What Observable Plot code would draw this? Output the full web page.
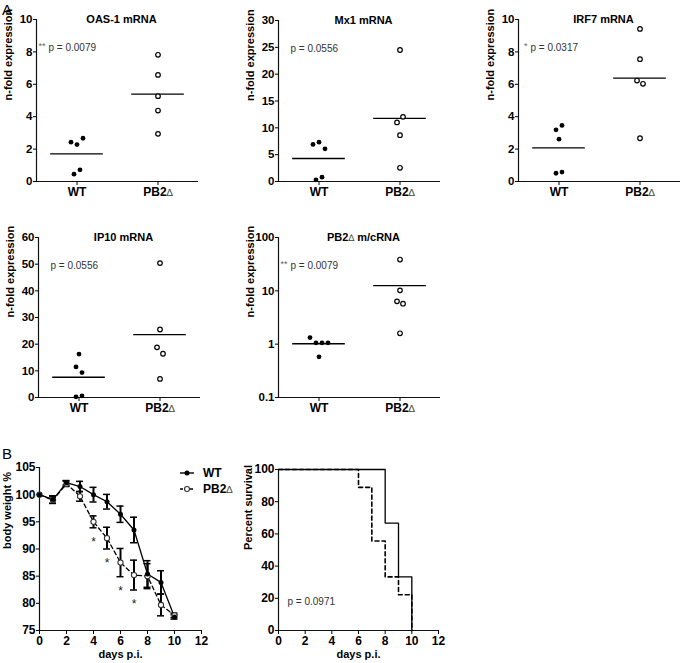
<!DOCTYPE html>
<html>
<head>
<meta charset="utf-8">
<script src="https://cdn.jsdelivr.net/npm/d3@7"></script>
<script src="https://cdn.jsdelivr.net/npm/@observablehq/plot@0.6"></script>
<style>
  html, body { margin: 0; padding: 0; background: #fff; overflow: hidden; }
  #fig { position: relative; width: 680px; height: 663px; overflow: hidden; background: #fff;
         font-family: 'Liberation Sans', Arial, Helvetica, sans-serif; color: #000; }
  .letter { position: absolute; font-size: 15px; line-height: 15px; }
</style>
</head>
<body>
<div id="fig"></div>
<script>
// ---------------- DATA ----------------
const groups = ["WT", "PB2Δ"];

const oasWT  = [2.43, 2.28, 2.67, 0.45, 0.72];
const oasPB2 = [7.82, 6.58, 5.27, 4.38, 2.94];

const mx1WT  = [6.9, 7.33, 6.09, 0.31, 0.81];
const mx1PB2 = [24.5, 11.0, 12.05, 8.63, 2.55];

const irf7WT  = [3.19, 3.46, 2.61, 0.51, 0.58];
const irf7PB2 = [9.42, 7.55, 6.23, 6.03, 2.67];

const ip10WT  = [16.3, 11.46, 9.34, 0.25, 0.62];
const ip10PB2 = [50.4, 25.5, 18.8, 16.4, 6.97];

const pb2WT  = [1.33, 1.06, 1.06, 1.06, 0.58];
const pb2PB2 = [38.6, 10.2, 6.35, 5.74, 1.6];

const titles = ["OAS-1 mRNA", "Mx1 mRNA", "IRF7 mRNA", "IP10 mRNA", "PB2Δ m/cRNA"];
const pValues = ["p = 0.0079", "p = 0.0556", "p = 0.0317", "p = 0.0556", "p = 0.0079"];
const pStars  = ["**", "", "*", "", "**"];

const days       = [0, 1, 2, 3, 4, 5, 6, 7, 8, 9, 10];
const wtWeight   = [100, 99.1, 102.2, 101.5, 100.0, 98.7, 96.4, 93.5, 85.4, 83.85, 77.5];
const wtSem      = [0, 0.7, 0.4, 0.95, 1.35, 1.35, 1.5, 2.35, 2.45, 2.15, 0.4];
const pb2Weight  = [100, 99.0, 102.0, 99.7, 95.0, 92.0, 87.5, 85.2, 85.0, 79.7, 77.8];
const pb2Sem     = [0, 0.6, 0.5, 0.9, 1.1, 2.0, 2.6, 2.75, 2.3, 2.0, 0.4];
const sigDays    = [4, 5, 6, 7];

const survDaysWT  = [0, 8, 9, 10];
const survWT      = [100, 66.7, 33.3, 0];
const survDaysPB2 = [0, 6, 7, 8, 9, 10];
const survPB2     = [100, 88.9, 55.6, 33.3, 22.2, 0];
const survP = "p = 0.0971";

// ---------------- HELPERS ----------------
const FONT = "'Liberation Sans', Arial, Helvetica, sans-serif";
const STYLE = `font-family:${FONT};font-size:12px;font-weight:bold;color:#000;background:transparent;overflow:visible;`;
const fig = document.getElementById("fig");
function place(el, left, top) {
  el.style.position = "absolute";
  el.style.left = left + "px";
  el.style.top = top + "px";
  fig.appendChild(el);
}

// cluster points whose pixel heights are close and spread them side by side
function swarm(values, center, yScale, unitsPerPx) {
  const py = values.map(v => yScale(v));
  const idx = d3.range(values.length).sort((a, b) => py[a] - py[b]);
  const clusters = [];
  let cur = [idx[0]];
  for (let k = 1; k < idx.length; k++) {
    if (Math.abs(py[idx[k]] - py[idx[k - 1]]) < 6.5) cur.push(idx[k]);
    else { clusters.push(cur); cur = [idx[k]]; }
  }
  clusters.push(cur);
  const off = new Array(values.length).fill(0);
  for (const c of clusters) {
    c.sort((a, b) => a - b);
    c.forEach((i, j) => off[i] = (j - (c.length - 1) / 2) * 6);
  }
  return values.map((v, i) => ({v, x: center + off[i] * unitsPerPx}));
}

function dotPanel(cfg) {
  const {k, wt, pb2, domain, ticks, log, axisX, axisTop, plotH} = cfg;
  const mT = 19, mB = 19, mL = 40, mR = 4, plotW = 162;
  const yS = (log ? d3.scaleLog() : d3.scaleLinear()).domain(domain).range([plotH, 0]);
  const upp = 4 / plotW;
  const wtPts = swarm(wt, 1, yS, upp);
  const pbPts = swarm(pb2, 3, yS, upp);
  const means = [{c: 1, m: d3.mean(wt)}, {c: 3, m: d3.mean(pb2)}];
  const marks = [
    Plot.ruleX([0], {stroke: "#111", strokeWidth: 1.2}),
    Plot.ruleY([domain[0]], {stroke: "#111", strokeWidth: 1.2}),
    Plot.axisX({ticks: [1, 3], tickFormat: t => groups[(t - 1) / 2], tickSize: 4, tickPadding: 2, label: null}),
    Plot.axisY({ticks, tickFormat: d => String(d), tickSize: 3, tickPadding: 1, label: null, fontSize: 11.5}),
    Plot.ruleY(means, {y: "m", x1: d => d.c - 0.65, x2: d => d.c + 0.65, stroke: "#000", strokeWidth: 1.3}),
    Plot.dot(wtPts, {x: "x", y: "v", r: 2.4, fill: "#000", stroke: "none"}),
    Plot.dot(pbPts, {x: "x", y: "v", r: 2.3, fill: "#fff", stroke: "#000", strokeWidth: 1.2}),
    Plot.text([titles[k]], {frameAnchor: "top", dx: 4, dy: -4, fontSize: 11, fontWeight: "bold"}),
    Plot.text([pValues[k]], {frameAnchor: "top-left", dx: 12, dy: 24, textAnchor: "start", fontSize: 10, fontWeight: "normal", fill: "#333"}),
    Plot.text(["n-fold expression"], {frameAnchor: "left", dx: -28, rotate: -90, fontSize: 11, fontWeight: "bold"})
  ];
  if (pStars[k]) marks.push(Plot.text([pStars[k]], {frameAnchor: "top-left", dx: 9, dy: 23, textAnchor: "end", fontSize: 9, fontWeight: "normal", fill: "#666"}));
  const chart = Plot.plot({
    width: mL + plotW + mR, height: mT + plotH + mB,
    marginLeft: mL, marginRight: mR, marginTop: mT, marginBottom: mB,
    style: STYLE,
    x: {domain: [0, 4]},
    y: {type: log ? "log" : "linear", domain},
    marks
  });
  place(chart, axisX - mL, axisTop - mT);
}

// ---------------- PANEL A ----------------
dotPanel({k: 0, wt: oasWT,  pb2: oasPB2,  domain: [0, 10], ticks: [0, 2, 4, 6, 8, 10], axisX: 36,  axisTop: 19, plotH: 162});
dotPanel({k: 1, wt: mx1WT,  pb2: mx1PB2,  domain: [0, 30], ticks: [0, 5, 10, 15, 20, 25, 30], axisX: 278, axisTop: 20, plotH: 161});
dotPanel({k: 2, wt: irf7WT, pb2: irf7PB2, domain: [0, 10], ticks: [0, 2, 4, 6, 8, 10], axisX: 518, axisTop: 19, plotH: 162});
dotPanel({k: 3, wt: ip10WT, pb2: ip10PB2, domain: [0, 60], ticks: [0, 10, 20, 30, 40, 50, 60], axisX: 38,  axisTop: 237, plotH: 160});
dotPanel({k: 4, wt: pb2WT,  pb2: pb2PB2,  domain: [0.1, 100], ticks: [0.1, 1, 10, 100], log: true, axisX: 278, axisTop: 237, plotH: 160});

// ---------------- PANEL B: body weight ----------------
(function () {
  const mT = 19, mB = 33, mL = 40, mR = 4, plotW = 162, plotH = 163;
  const wtRows = days.map((d, i) => ({day: d, m: wtWeight[i], e: wtSem[i]}));
  const pbRows = days.map((d, i) => ({day: d, m: pb2Weight[i], e: pb2Sem[i]}));
  const bars = rows => rows.filter(d => d.e > 0);
  const caps = rows => bars(rows).flatMap(d => [{day: d.day, y: d.m - d.e}, {day: d.day, y: d.m + d.e}]);
  const sigRows = pbRows.filter(d => sigDays.includes(d.day));
  const chart = Plot.plot({
    width: mL + plotW + mR, height: mT + plotH + mB,
    marginLeft: mL, marginRight: mR, marginTop: mT, marginBottom: mB,
    style: STYLE,
    x: {domain: [0, 12]},
    y: {domain: [75, 105]},
    marks: [
      Plot.ruleX([0], {stroke: "#111", strokeWidth: 1.2}),
      Plot.ruleY([75], {stroke: "#111", strokeWidth: 1.2}),
      Plot.axisX({ticks: [0, 2, 4, 6, 8, 10, 12], tickSize: 4, tickPadding: 2, label: null}),
      Plot.axisY({ticks: [75, 80, 85, 90, 95, 100, 105], tickSize: 3, tickPadding: 1, label: null}),
      Plot.ruleX(bars(pbRows), {x: "day", y1: d => d.m - d.e, y2: d => d.m + d.e, stroke: "#000", strokeWidth: 2}),
      Plot.ruleY(caps(pbRows), {y: "y", x1: d => d.day - 0.26, x2: d => d.day + 0.26, stroke: "#000", strokeWidth: 1.5}),
      Plot.ruleX(bars(wtRows), {x: "day", y1: d => d.m - d.e, y2: d => d.m + d.e, stroke: "#000", strokeWidth: 2}),
      Plot.ruleY(caps(wtRows), {y: "y", x1: d => d.day - 0.26, x2: d => d.day + 0.26, stroke: "#000", strokeWidth: 1.5}),
      Plot.line(pbRows, {x: "day", y: "m", stroke: "#000", strokeWidth: 1.3, strokeDasharray: "4,3"}),
      Plot.line(wtRows, {x: "day", y: "m", stroke: "#000", strokeWidth: 1.3}),
      Plot.dot(pbRows, {x: "day", y: "m", r: 2.6, fill: "#fff", stroke: "#333", strokeWidth: 1.1}),
      Plot.dot(wtRows, {x: "day", y: "m", r: 2.5, fill: "#000", stroke: "none"}),
      Plot.text(sigRows, {x: "day", y: d => d.m - d.e, dy: 14, text: () => "*", fontSize: 12, fontWeight: "normal", fill: "#222"}),
      Plot.text(["body weight %"], {frameAnchor: "left", dx: -32, rotate: -90, fontSize: 11, fontWeight: "bold"}),
      Plot.text(["days p.i."], {frameAnchor: "bottom", dy: 27, fontSize: 11, fontWeight: "bold"})
    ]
  });
  place(chart, 39 - mL, 467 - mT);
})();

// ---------------- PANEL B: survival ----------------
(function () {
  const mT = 19, mB = 33, mL = 40, mR = 4, plotW = 160, plotH = 161;
  const wtS = survDaysWT.map((d, i) => ({day: d, s: survWT[i]}));
  const pbS = survDaysPB2.map((d, i) => ({day: d, s: survPB2[i]}));
  const chart = Plot.plot({
    width: mL + plotW + mR, height: mT + plotH + mB,
    marginLeft: mL, marginRight: mR, marginTop: mT, marginBottom: mB,
    style: STYLE,
    x: {domain: [0, 12]},
    y: {domain: [0, 100]},
    marks: [
      Plot.ruleX([0], {stroke: "#111", strokeWidth: 1.2}),
      Plot.ruleY([0], {stroke: "#111", strokeWidth: 1.2}),
      Plot.axisX({ticks: [0, 2, 4, 6, 8, 10, 12], tickSize: 4, tickPadding: 2, label: null}),
      Plot.axisY({ticks: [0, 20, 40, 60, 80, 100], tickSize: 3, tickPadding: 1, label: null}),
      Plot.line(pbS, {x: "day", y: "s", curve: "step-after", stroke: "#000", strokeWidth: 1.6, strokeDasharray: "4,3"}),
      Plot.line(wtS, {x: "day", y: "s", curve: "step-after", stroke: "#000", strokeWidth: 1.3}),
      Plot.text([survP], {frameAnchor: "bottom-left", dx: 9, dy: -26, textAnchor: "start", fontSize: 10, fontWeight: "normal", fill: "#333"}),
      Plot.text(["Percent survival"], {frameAnchor: "left", dx: -30, rotate: -90, fontSize: 11, fontWeight: "bold"}),
      Plot.text(["days p.i."], {frameAnchor: "bottom", dy: 27, fontSize: 11, fontWeight: "bold"})
    ]
  });
  place(chart, 278 - mL, 469 - mT);
})();

// ---------------- legend for weight panel ----------------
(function () {
  const svg = d3.create("svg").attr("width", 70).attr("height", 36)
    .style("font-family", FONT).style("font-size", "12px").style("font-weight", "bold").style("overflow", "visible");
  const rows = [{name: groups[0], dash: null, fill: "#000", y: 8}, {name: groups[1], dash: "3,2", fill: "#fff", y: 24}];
  for (const r of rows) {
    svg.append("line").attr("x1", 3).attr("x2", 17).attr("y1", r.y).attr("y2", r.y)
      .attr("stroke", "#000").attr("stroke-width", 1.4).attr("stroke-dasharray", r.dash);
    svg.append("circle").attr("cx", 10).attr("cy", r.y).attr("r", 2.5)
      .attr("fill", r.fill).attr("stroke", r.fill === "#fff" ? "#333" : "none").attr("stroke-width", 1.1);
    svg.append("text").attr("x", 26).attr("y", r.y).attr("dy", "0.35em").text(r.name);
  }
  place(svg.node(), 177, 465);
})();

// ---------------- thin, light delta glyph as in the original ----------------
fig.querySelectorAll("text, tspan").forEach(node => {
  if (node.childElementCount === 0 && node.textContent.includes("Δ")) {
    const parts = node.textContent.split("Δ");
    node.textContent = "";
    parts.forEach((p, i) => {
      if (i > 0) {
        const t = document.createElementNS("http://www.w3.org/2000/svg", "tspan");
        t.setAttribute("font-weight", "normal");
        t.setAttribute("font-size", "0.85em");
        t.setAttribute("fill", "#444");
        t.textContent = "∆";
        node.appendChild(t);
      }
      if (p) {
        const t = document.createElementNS("http://www.w3.org/2000/svg", "tspan");
        t.textContent = p;
        node.appendChild(t);
      }
    });
  }
});

// ---------------- panel letters ----------------
for (const [t, l, tp] of [["A", 2, 2], ["B", 2, 446]]) {
  const d = document.createElement("div");
  d.className = "letter";
  d.textContent = t;
  d.style.left = l + "px";
  d.style.top = tp + "px";
  fig.appendChild(d);
}
</script>
</body>
</html>
